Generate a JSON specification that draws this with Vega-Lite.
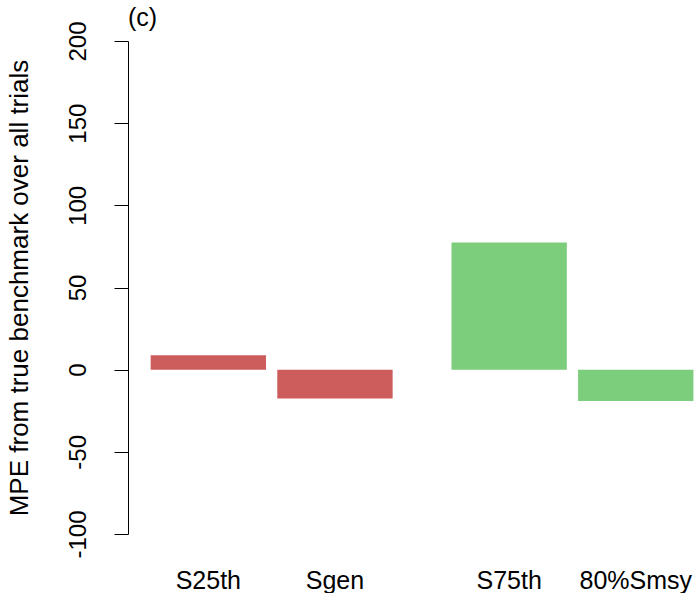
{
  "$schema": "https://vega.github.io/schema/vega-lite/v6.json",
  "padding": {"left": 5, "top": 5, "right": 0, "bottom": 0},
  "background": "white",
  "config": {
    "view": {"stroke": null},
    "font": "Liberation Sans",
    "axis": {"grid": false, "labelFont": "Liberation Sans", "titleFont": "Liberation Sans", "labelColor": "black", "titleColor": "black", "domainColor": "black", "tickColor": "black", "titleFontWeight": "normal"}
  },
  "data": {
    "values": [
      {"label": "S25th", "value": 8.7, "group": "A"},
      {"label": "Sgen", "value": -17.5, "group": "A"},
      {"label": "S75th", "value": 77.4, "group": "B"},
      {"label": "80%Smsy", "value": -19.1, "group": "B"}
    ]
  },
  "spacing": 12.4,
  "hconcat": [
    {
      "title": {"text": "(c)", "anchor": "start", "frame": "group", "fontSize": 25, "fontWeight": "normal", "font": "Liberation Sans", "color": "black", "baseline": "alphabetic", "offset": -30},
      "width": 287.3,
      "height": 493,
      "transform": [{"filter": "datum.group === 'A'"}],
      "mark": {"type": "bar"},
      "encoding": {
        "x": {"field": "label", "type": "nominal", "sort": ["S25th", "Sgen"],
              "scale": {"paddingInner": 0.089, "paddingOuter": 0.179},
              "axis": {"title": null, "domain": false, "ticks": false, "labelAngle": 0, "labelFontSize": 25, "labelPadding": 34}},
        "y": {"field": "value", "type": "quantitative",
              "scale": {"domain": [-100, 200], "nice": false, "zero": false},
              "axis": {"values": [-100, -50, 0, 50, 100, 150, 200], "labelExpr": "toString(datum.value)", "title": "MPE from true benchmark over all trials", "titleFontSize": 26, "labelFontSize": 24, "labelAngle": -90, "tickSize": 14, "labelPadding": 24, "titlePadding": 34, "domainWidth": 1, "tickWidth": 1}},
        "color": {"field": "group", "type": "nominal", "scale": {"domain": ["A", "B"], "range": ["#CD5C5C", "#7CCD7C"]}, "legend": null}
      }
    },
    {
      "width": 265,
      "height": 493,
      "transform": [{"filter": "datum.group === 'B'"}],
      "mark": {"type": "bar"},
      "encoding": {
        "x": {"field": "label", "type": "nominal", "sort": ["S75th", "80%Smsy"],
              "scale": {"paddingInner": 0.089, "paddingOuter": 0.0912, "align": 1},
              "axis": {"title": null, "domain": false, "ticks": false, "labelAngle": 0, "labelFontSize": 25, "labelPadding": 34}},
        "y": {"field": "value", "type": "quantitative",
              "scale": {"domain": [-100, 200], "nice": false, "zero": false},
              "axis": null},
        "color": {"field": "group", "type": "nominal", "scale": {"domain": ["A", "B"], "range": ["#CD5C5C", "#7CCD7C"]}, "legend": null}
      }
    }
  ]
}
